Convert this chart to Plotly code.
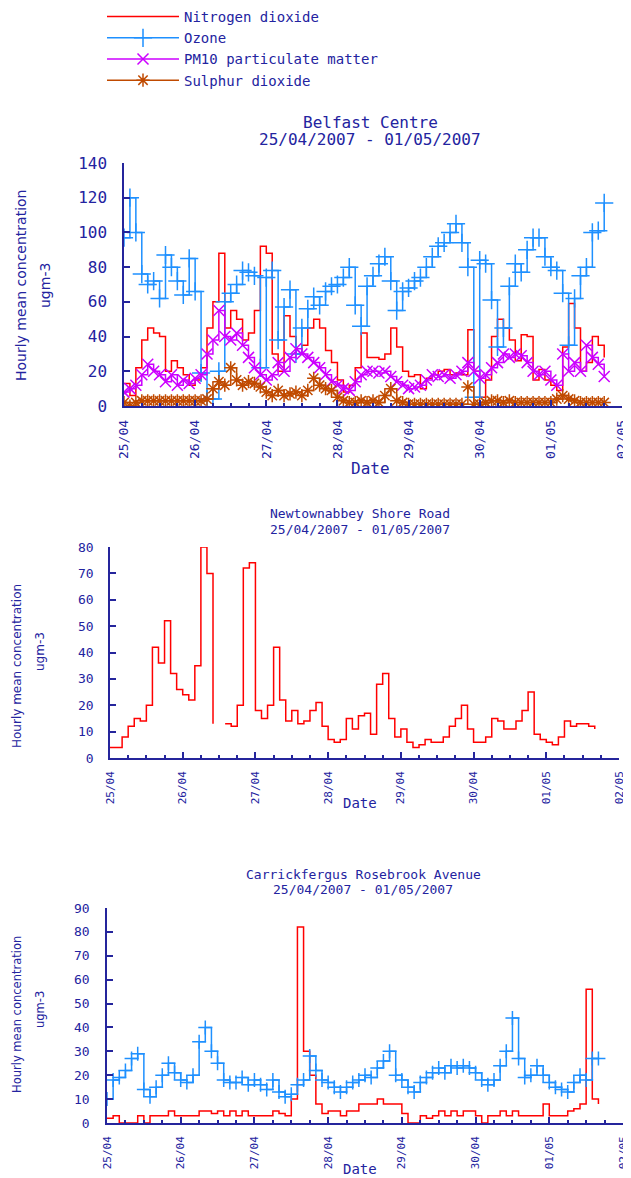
import pandas as pd
import plotly.graph_objects as go

# ---------------- data (2-hourly readings, ugm-3) ----------------
start = "2007-04-25 00:00"

belfast_no2 = [13, 6, 22, 38, 45, 42, 40, 20, 26, 22, 18, 12,
               15, 22, 45, 60, 88, 45, 55, 50, 38, 42, 55, 92,
               88, 30, 20, 52, 40, 30, 35, 45, 50, 45, 32, 25,
               15, 8, 12, 22, 42, 28, 28, 27, 30, 45, 34, 20,
               17, 18, 10, 16, 18, 20, 21, 18, 19, 18, 44, 20,
               5, 15, 40, 50, 45, 38, 26, 41, 40, 15, 21, 15,
               12, 9, 34, 59, 45, 20, 25, 40, 35, 28]
belfast_o3 = [97, 120, 100, 76, 70, 72, 62, 87, 80, 72, 64, 85,
              66, 19, 4, 4, 20, 60, 65, 70, 78, 77, 75, 22,
              74, 78, 38, 57, 67, 30, 45, 56, 63, 58, 66, 69,
              70, 74, 80, 58, 46, 69, 75, 82, 86, 72, 55, 66,
              68, 72, 74, 80, 86, 92, 94, 100, 105, 94, 80, 5,
              84, 82, 61, 34, 45, 69, 82, 77, 90, 97, 97, 86,
              80, 78, 65, 35, 62, 75, 80, 100, 101, 117]
belfast_pm10 = [8, 10, 12, 18, 24, 20, 18, 14, 18, 12, 15, 13,
                16, 18, 30, 38, 55, 40, 38, 42, 35, 28, 22, 18,
                15, 18, 25, 20, 28, 33, 30, 28, 25, 22, 18, 14,
                12, 10, 9, 14, 18, 20, 20, 19, 20, 17, 14, 12,
                10, 11, 12, 15, 18, 17, 18, 16, 18, 20, 25, 20,
                16, 18, 22, 25, 30, 28, 30, 29, 25, 20, 18, 20,
                15, 12, 30, 20, 25, 20, 35, 28, 24, 17]
belfast_so2 = [2, 0, 2, 3, 3, 3, 3, 3, 3, 3, 3, 3,
               3, 3, 4, 10, 14, 12, 22, 15, 12, 14, 13, 11,
               8, 6, 9, 6, 7, 8, 6, 9, 16, 12, 10, 9,
               5, 3, 2, 2, 3, 2, 3, 2, 6, 10, 3, 2,
               1, 1, 1, 1, 1, 1, 1, 1, 1, 1, 11, 1,
               1, 2, 3, 3, 2, 3, 2, 2, 2, 2, 2, 2,
               2, 4, 6, 4, 3, 2, 2, 2, 2, 2]

newtown_no2 = [4, 4, 8, 12, 15, 14, 20, 42, 36, 52, 32, 26,
               24, 22, 35, 80, 70, 13, None, 13, 12, 20, 72, 74,
               18, 15, 20, 42, 22, 14, 18, 13, 14, 18, 21, 12,
               7, 6, 7, 15, 11, 16, 17, 9, 28, 32, 15, 8,
               11, 6, 4, 5, 7, 6, 6, 8, 12, 15, 20, 11,
               6, 6, 8, 15, 14, 11, 11, 14, 18, 25, 9, 7,
               6, 5, 8, 14, 12, 13, 13, 12, 11]

carrick_no2 = [2, 3, 0, 0, 0, 3, 0, 3, 3, 3, 5, 3,
               3, 3, 3, 5, 5, 4, 5, 3, 5, 3, 5, 3,
               3, 3, 3, 5, 4, 3, 10, 82, 30, 20, 8, 4,
               5, 5, 3, 5, 5, 8, 8, 8, 10, 8, 8, 8,
               4, 0, 0, 3, 2, 3, 5, 3, 5, 3, 5, 5,
               3, 0, 3, 3, 5, 3, 5, 3, 3, 3, 3, 8,
               3, 3, 3, 5, 6, 8, 56, 10, 8]
carrick_o3 = [10, 18, 19, 22, 27, 29, 14, 11, 15, 20, 25, 21,
              18, 17, 20, 34, 40, 30, 25, 18, 17, 17, 19, 16,
              18, 16, 14, 18, 13, 11, 12, 16, 18, 28, 22, 18,
              17, 15, 13, 15, 17, 18, 20, 19, 23, 26, 30, 20,
              18, 15, 13, 17, 19, 21, 23, 21, 24, 23, 24, 23,
              21, 18, 16, 18, 24, 30, 44, 27, 19, 20, 24, 20,
              17, 15, 14, 13, 17, 20, 18, 27, 27]

t_belfast = pd.date_range(start, periods=len(belfast_no2), freq="2h")
t_newtown = pd.date_range(start, periods=len(newtown_no2), freq="2h")
t_carrick = pd.date_range(start, periods=len(carrick_no2), freq="2h")

# ---------------- styling ----------------
W, H = 631, 1178
OFF = 8  # page body margin: screen position = figure position + 8
TXT = "#2323a0"
AX = "#25259c"
RED, BLUE, MAG, BRN = "#ff0000", "#1e90ff", "#cc00ff", "#c04a00"
MONO = "DejaVu Sans Mono"
SANS = "DejaVu Sans"


def px_x(p):
    return (p - OFF) / W


def px_y(p):
    return 1 - (p - OFF) / H


fig = go.Figure()

def line(t, v, name, color, xa, ya, symbol=None, msize=12, legend=False):
    mode = "lines+markers" if symbol else "lines"
    kw = dict(x=t, y=v, name=name, mode=mode, xaxis=xa, yaxis=ya,
              line=dict(color=color, width=1.5, shape="hv"),
              connectgaps=False, showlegend=legend)
    if symbol:
        kw["marker"] = dict(symbol=symbol, size=msize, color=color,
                            line=dict(color=color, width=1.5))
    fig.add_trace(go.Scatter(**kw))

# top chart
line(t_belfast, belfast_no2, "Nitrogen dioxide", RED, "x", "y", legend=True)
line(t_belfast, belfast_o3, "Ozone", BLUE, "x", "y", "cross-thin-open", 13, True)
line(t_belfast, belfast_pm10, "PM10 particulate matter", MAG, "x", "y", "x-thin-open", 11, True)
line(t_belfast, belfast_so2, "Sulphur dioxide", BRN, "x", "y", "asterisk-open", 11, True)
# middle chart
line(t_newtown, newtown_no2, "Nitrogen dioxide", RED, "x2", "y2")
# bottom chart
line(t_carrick, carrick_no2, "Nitrogen dioxide", RED, "x3", "y3")
line(t_carrick, carrick_o3, "Ozone", BLUE, "x3", "y3", "cross-thin-open", 10)


def xaxis_cfg(x0, x1, anchor, fs, standoff):
    return dict(domain=[px_x(x0), px_x(x1)], anchor=anchor, type="date",
                range=["2007-04-25", "2007-05-02"], tick0="2007-04-25",
                dtick=86400000, tickformat="%d/%m", tickangle=-90,
                ticks="inside", ticklen=6, tickwidth=1.5, tickcolor=AX,
                minor=dict(dtick=6 * 3600000, ticks="inside", ticklen=3,
                           tickwidth=1.5, tickcolor=AX),
                showline=True, linecolor=AX, linewidth=1.5,
                showgrid=False, zeroline=False, ticklabelstandoff=standoff,
                automargin=False,
                tickfont=dict(family=MONO, size=fs, color=TXT))


def yaxis_cfg(y0, y1, anchor, top, step, fs, standoff):
    return dict(domain=[px_y(y1), px_y(y0)], anchor=anchor,
                range=[0, top], dtick=step, ticks="inside", ticklen=6,
                tickwidth=1.5, tickcolor=AX, showline=True, linecolor=AX,
                linewidth=1.5, showgrid=False, zeroline=False,
                ticklabelstandoff=standoff, automargin=False,
                tickfont=dict(family=MONO, size=fs, color=TXT))


fig.update_layout(
    width=W, height=H,
    margin=dict(l=0, r=0, t=0, b=0, pad=0, autoexpand=False),
    paper_bgcolor="white", plot_bgcolor="white",
    xaxis=xaxis_cfg(124, 622, "y", 13, 7),
    yaxis=yaxis_cfg(163, 406, "x", 140, 20, 16, 12),
    xaxis2=xaxis_cfg(110, 619, "y2", 11, 7),
    yaxis2=yaxis_cfg(547, 758, "x2", 80, 10, 13, 12),
    xaxis3=xaxis_cfg(107, 623, "y3", 11, 7),
    yaxis3=yaxis_cfg(908, 1123, "x3", 90, 10, 13, 13),
    legend=dict(x=px_x(102), y=px_y(1), xanchor="left", yanchor="top",
                itemwidth=72, font=dict(family=MONO, size=14, color=TXT),
                bgcolor="rgba(0,0,0,0)", tracegroupgap=0),
)

ann = []

def text(x, y, s, size, family=MONO, angle=0):
    ann.append(dict(x=px_x(x), y=px_y(y), xref="paper", yref="paper",
                    text=s, showarrow=False, textangle=angle,
                    xanchor="center", yanchor="middle",
                    font=dict(family=family, size=size, color=TXT)))

# titles
text(370, 122, "Belfast Centre", 16)
text(370, 139, "25/04/2007 - 01/05/2007", 16)
text(360, 514, "Newtownabbey Shore Road", 13)
text(360, 529, "25/04/2007 - 01/05/2007", 13)
text(363, 874, "Carrickfergus Rosebrook Avenue", 13)
text(363, 889, "25/04/2007 - 01/05/2007", 13)
# x titles
text(370, 468, "Date", 16)
text(360, 803, "Date", 14)
text(360, 1169, "Date", 14)
# y titles
text(21, 286, "Hourly mean concentration", 14, SANS, -90)
text(45, 286, "ugm-3", 14, SANS, -90)
text(17, 666, "Hourly mean concentration", 12, SANS, -90)
text(40, 652, "ugm-3", 12, SANS, -90)
text(17, 1015, "Hourly mean concentration", 11.5, SANS, -90)
text(40, 1010, "ugm-3", 11.5, SANS, -90)

fig.update_layout(annotations=ann)

fig.write_html("out.html")
